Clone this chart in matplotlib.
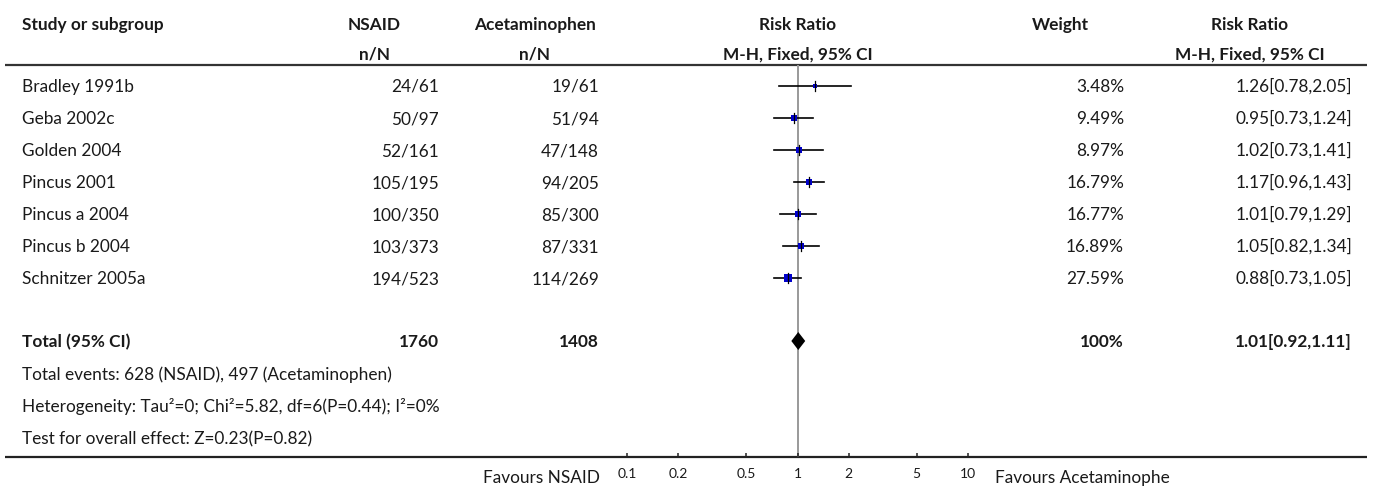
import matplotlib
matplotlib.use("Agg")
import matplotlib.pyplot as plt
import numpy as np

plt.rcParams['font.family'] = ['Lato', 'DejaVu Sans']

studies = ["Bradley 1991b", "Geba 2002c", "Golden 2004", "Pincus 2001",
           "Pincus a 2004", "Pincus b 2004", "Schnitzer 2005a"]
nsaid = ["24/61", "50/97", "52/161", "105/195", "100/350", "103/373", "194/523"]
acet = ["19/61", "51/94", "47/148", "94/205", "85/300", "87/331", "114/269"]
rr = [1.26, 0.95, 1.02, 1.17, 1.01, 1.05, 0.88]
lo = [0.78, 0.73, 0.73, 0.96, 0.79, 0.82, 0.73]
hi = [2.05, 1.24, 1.41, 1.43, 1.29, 1.34, 1.05]
weights = [3.48, 9.49, 8.97, 16.79, 16.77, 16.89, 27.59]
total_n = ["1760", "1408"]
total_rr, total_lo, total_hi = 1.01, 0.92, 1.11
ticks = [0.1, 0.2, 0.5, 1, 2, 5, 10]
footnotes = ["Total events: 628 (NSAID), 497 (Acetaminophen)",
             "Heterogeneity: Tau²=0; Chi²=5.82, df=6(P=0.44); I²=0%",
             "Test for overall effect: Z=0.23(P=0.82)"]

W, H = 1373, 486
fig = plt.figure(figsize=(W / 100, H / 100), dpi=100)
bg = fig.add_axes([0, 0, 1, 1])
bg.set_xlim(0, W)
bg.set_ylim(H, 0)
bg.axis('off')

tc = '#1a1a1a'
fs = 12.4
row0, dy = 86, 32
base = 6  # baseline offset below row centre (px)
def ry(i):
    return row0 + dy * i

def txt(x, y, s, ha='left', bold=False):
    bg.text(x, y + base, s, fontsize=fs, fontweight='bold' if bold else 'normal',
            va='baseline', ha=ha, color=tc)

# headers
h1, h2 = 24, 53.5
txt(22, h1, "Study or subgroup", bold=True)
for x, a, b in [(374, "NSAID", "n/N"), (535, "Acetaminophen", "n/N"),
                (798, "Risk Ratio", "M-H, Fixed, 95% CI"), (1060, "Weight", None),
                (1250, "Risk Ratio", "M-H, Fixed, 95% CI")]:
    txt(x, h1, a, ha='center', bold=True)
    if b:
        txt(x, h2, b, ha='center', bold=True)
bg.plot([5, 1367], [65, 65], color='#333333', lw=1.6, solid_capstyle='butt')
bg.plot([5, 1367], [457, 457], color='#222222', lw=1.6, solid_capstyle='butt')

for i, s in enumerate(studies):
    y = ry(i)
    txt(22, y, s)
    txt(439, y, nsaid[i], ha='right')
    txt(599, y, acet[i], ha='right')
    txt(1124, y, f"{weights[i]:.2f}%", ha='right')
    txt(1352, y, f"{rr[i]:.2f}[{lo[i]:.2f},{hi[i]:.2f}]", ha='right')

yt = ry(8) - 1
txt(22, yt, "Total (95% CI)", bold=True)
txt(439, yt, total_n[0], ha='right', bold=True)
txt(599, yt, total_n[1], ha='right', bold=True)
txt(1124, yt, "100%", ha='right', bold=True)
txt(1352, yt, f"{total_rr:.2f}[{total_lo:.2f},{total_hi:.2f}]", ha='right', bold=True)
for k, t in enumerate(footnotes):
    txt(22, ry(9 + k), t)

bg.text(600, 483, "Favours NSAID", fontsize=fs, va='baseline', ha='right', color=tc)
bg.text(995, 483, "Favours Acetaminophe", fontsize=fs, va='baseline', ha='left', color=tc)

# forest axes
x0, x1 = 627, 968
top, bot = 65, 457
ax = fig.add_axes([x0 / W, (H - bot) / H, (x1 - x0) / W, (bot - top) / H])
ax.set_xscale('log')
ax.set_xlim(0.1, 10)
ax.set_ylim(bot, top)
ax.patch.set_alpha(0)
for sp in ax.spines.values():
    sp.set_visible(False)
ax.set_yticks([])
ax.set_xticks(ticks)
ax.set_xticklabels([f"{t:g}" for t in ticks])
ax.minorticks_off()
ax.tick_params(axis='x', direction='in', length=3.2, width=1.1, colors='#222222',
               labelsize=10, pad=8)
for lab in ax.get_xticklabels():
    lab.set_color(tc)
ax.axvline(1, color='#999999', lw=1.4, zorder=1)

for i in range(len(studies)):
    y = ry(i)
    ax.plot([lo[i], hi[i]], [y, y], color='black', lw=1.2, zorder=2)
    side = 1.7 * np.sqrt(weights[i]) * 0.72  # points
    ax.plot([rr[i]], [y], marker='s', ms=side, color='#0000cc', mec='#0000cc', mew=0, zorder=3)
    ax.plot([rr[i], rr[i]], [y - 5, y + 5], color='black', lw=0.9, zorder=4)

ax.fill([total_lo, total_rr, total_hi, total_rr], [yt, yt - 9, yt, yt + 9],
        color='black', zorder=3, lw=0)

fig.savefig("out.png", dpi=100)
